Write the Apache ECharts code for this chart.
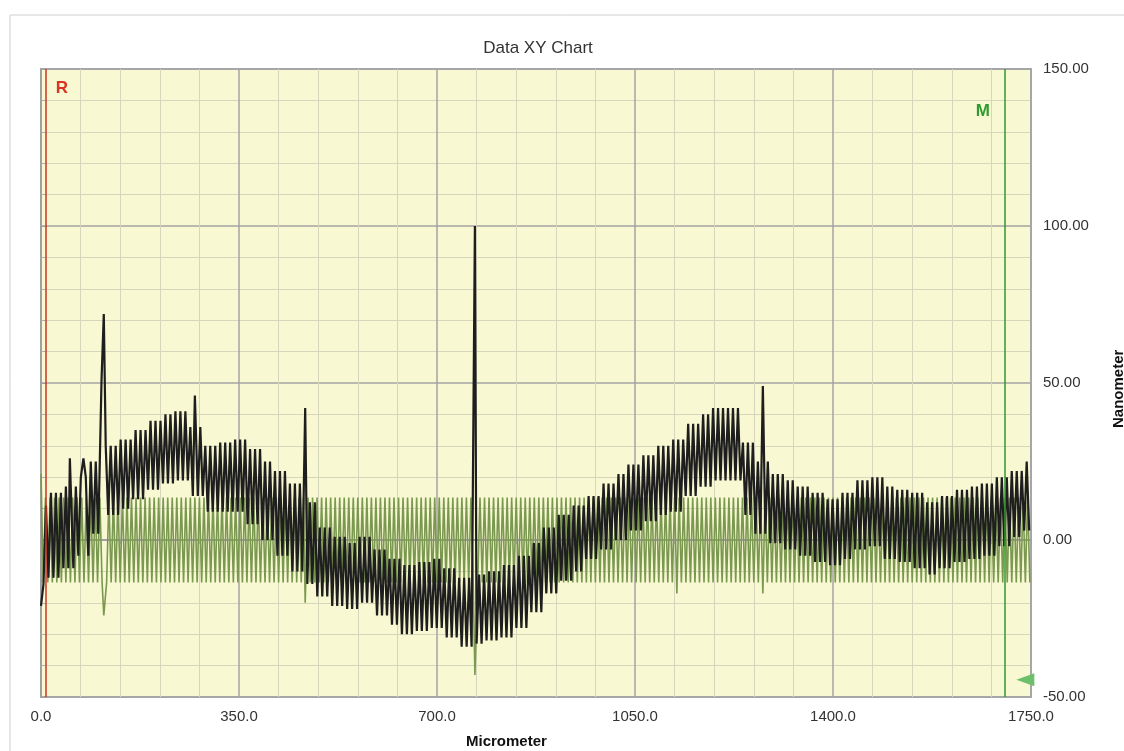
<!DOCTYPE html>
<html>
<head>
<meta charset="utf-8">
<title>Data XY Chart</title>
<script src="https://cdn.jsdelivr.net/npm/echarts@6/dist/echarts.min.js"></script>
<style>
  html, body { margin: 0; padding: 0; background: #fff; }
  #main { width: 1124px; height: 751px; }
</style>
</head>
<body>
<div id="main"></div>
<script>
// x range and tick labels
var xTicks = [0, 350, 700, 1050, 1400, 1750];
var yTicks = [-50, 0, 50, 100, 150];

// black trace: upper / lower envelope read every 25 micrometer
var envStep = 25;
var blackUpper = [11, 15, 17, 20, 25, 30, 32, 35, 38, 40, 41, 36, 30, 31, 32, 29, 25, 22, 18, 12,
  4, 1, -1, 1, -3, -6, -8, -7, -6, -9, -12, -11, -10, -8, -5, -1, 4, 8, 11, 14,
  18, 21, 24, 27, 30, 32, 37, 40, 42, 42, 31, 25, 21, 19, 17, 15, 13, 15, 19, 20,
  17, 16, 15, 12, 14, 16, 17, 18, 20, 22, 25];
var blackLower = [-14, -12, -9, -5, 2, 8, 10, 13, 16, 18, 19, 14, 9, 9, 9, 5, 0, -5, -10, -14,
  -18, -21, -22, -20, -24, -27, -30, -29, -28, -31, -34, -33, -32, -31, -28, -23, -17, -13, -10, -6,
  -3, 0, 3, 6, 8, 9, 14, 17, 19, 19, 8, 2, -1, -3, -5, -7, -8, -6, -3, -2,
  -6, -7, -9, -11, -9, -7, -6, -5, -2, 1, 3];
var blackHalfPeriod = 4.4;
// isolated spikes [micrometer, nanometer]
var blackSpikes = [[0, -21], [51, 26], [75, 26], [107, 51], [111, 72], [272, 46], [467, 42], [767, 100], [1276, 49]];

// green trace: constant swing
var greenLevels = [13.5, -13.5];
var greenHalfPeriod = 4;
var greenSpikes = [[0, 21], [111, -24], [467, -20], [767, -43], [1124, -17], [1276, -17]];

// cursors
var cursorR = 8;
var cursorM = 1704;

function buildTrace(half, levelAt, spikes) {
  var pts = [];
  for (var k = 0; k * half <= 1750; k++) {
    var x = +(k * half).toFixed(2);
    pts.push([x, levelAt(k, x)]);
  }
  spikes.forEach(function (s) {
    var best = 0;
    for (var i = 1; i < pts.length; i++) {
      if (Math.abs(pts[i][0] - s[0]) < Math.abs(pts[best][0] - s[0])) best = i;
    }
    pts[best] = [s[0], s[1]];
  });
  return pts;
}

var blackData = buildTrace(blackHalfPeriod, function (k, x) {
  var i = Math.round(x / envStep);
  return k % 2 ? blackLower[i] : blackUpper[i];
}, blackSpikes);

var greenData = buildTrace(greenHalfPeriod, function (k) {
  return greenLevels[k % 2];
}, greenSpikes);

var font = 'Liberation Sans, Arial, sans-serif';
var chart = echarts.init(document.getElementById('main'));

chart.setOption({
  animation: false,
  backgroundColor: '#ffffff',
  title: {
    text: 'Data XY Chart',
    left: 533,
    top: 35,
    textAlign: 'center',
    textStyle: { fontFamily: font, fontSize: 17, fontWeight: 'normal', color: '#333' }
  },
  graphic: [
    {
      type: 'rect',
      shape: { x: 10, y: 15, width: 1130, height: 760 },
      style: { fill: 'none', stroke: '#cfcfcf', lineWidth: 1 },
      silent: true
    },
    {
      type: 'text',
      left: 466,
      top: 734,
      style: { text: 'Micrometer', font: 'bold 15px ' + font, fill: '#111' }
    },
    {
      type: 'text',
      x: 1111,
      y: 428,
      rotation: Math.PI / 2,
      style: { text: 'Nanometer', font: 'bold 15px ' + font, fill: '#111' }
    }
  ],
  grid: {
    left: 41,
    right: 93,
    top: 69,
    bottom: 54,
    show: true,
    backgroundColor: '#f8f8d2',
    borderColor: '#aaaaaa',
    borderWidth: 2
  },
  xAxis: {
    type: 'value',
    min: xTicks[0],
    max: xTicks[xTicks.length - 1],
    interval: 350,
    axisLine: { lineStyle: { color: '#a0a0a0', width: 2 } },
    axisTick: { show: true, length: 5, lineStyle: { color: '#a0a0a0' } },
    minorTick: { show: true, splitNumber: 5, length: 4, lineStyle: { color: '#b0b0b0' } },
    axisLabel: {
      color: '#333', fontFamily: font, fontSize: 15, margin: 12,
      formatter: function (v) { return v.toFixed(1); }
    },
    splitLine: { show: true, lineStyle: { color: '#a5a5a5', width: 1.5 } },
    minorSplitLine: { show: true, lineStyle: { color: '#d6d6bc', width: 1 } }
  },
  yAxis: {
    type: 'value',
    position: 'right',
    min: yTicks[0],
    max: yTicks[yTicks.length - 1],
    interval: 50,
    axisLine: { show: true, lineStyle: { color: '#a0a0a0', width: 2 } },
    axisTick: { show: true, length: 6, lineStyle: { color: '#a0a0a0' } },
    minorTick: { show: true, splitNumber: 5, length: 5, lineStyle: { color: '#b0b0b0' } },
    axisLabel: {
      color: '#333', fontFamily: font, fontSize: 15, margin: 12,
      padding: [6, 0, 0, 0],
      formatter: function (v) { return v.toFixed(2); }
    },
    splitLine: { show: true, lineStyle: { color: '#a5a5a5', width: 1.5 } },
    minorSplitLine: { show: true, lineStyle: { color: '#d6d6bc', width: 1 } }
  },
  series: [
    {
      name: 'green',
      type: 'line',
      data: greenData,
      showSymbol: false,
      lineStyle: { color: '#7a9850', width: 1.6 },
      z: 2,
      markLine: {
        silent: true,
        symbol: 'none',
        label: { show: false },
        itemStyle: { color: '#2f9a2f' },
        lineStyle: { color: '#2f9a2f', width: 1.5, type: 'solid', opacity: 1 },
        data: [{ xAxis: cursorM, lineStyle: { color: '#2f9a2f' } }]
      },
      markPoint: {
        silent: true,
        data: [
          {
            coord: [1740, -44.5],
            symbol: 'triangle',
            symbolRotate: 90,
            symbolSize: [13, 18],
            itemStyle: { color: '#6cc06c' },
            label: { show: false }
          },
          {
            coord: [1665, 136.6],
            symbolSize: 0,
            label: { show: true, formatter: 'M', color: '#2f9a2f', fontWeight: 'bold', fontSize: 17, fontFamily: font }
          }
        ]
      }
    },
    {
      name: 'black',
      type: 'line',
      data: blackData,
      showSymbol: false,
      lineStyle: { color: '#1e1e1e', width: 2.2 },
      z: 3,
      markLine: {
        silent: true,
        symbol: 'none',
        label: { show: false },
        itemStyle: { color: '#cc3322' },
        lineStyle: { color: '#cc3322', width: 1.5, type: 'solid', opacity: 1 },
        data: [{ xAxis: cursorR, lineStyle: { color: '#cc3322' } }]
      },
      markPoint: {
        silent: true,
        data: [
          {
            coord: [37, 144],
            symbolSize: 0,
            label: { show: true, formatter: 'R', color: '#dd3322', fontWeight: 'bold', fontSize: 17, fontFamily: font }
          }
        ]
      }
    }
  ]
});
</script>
</body>
</html>
